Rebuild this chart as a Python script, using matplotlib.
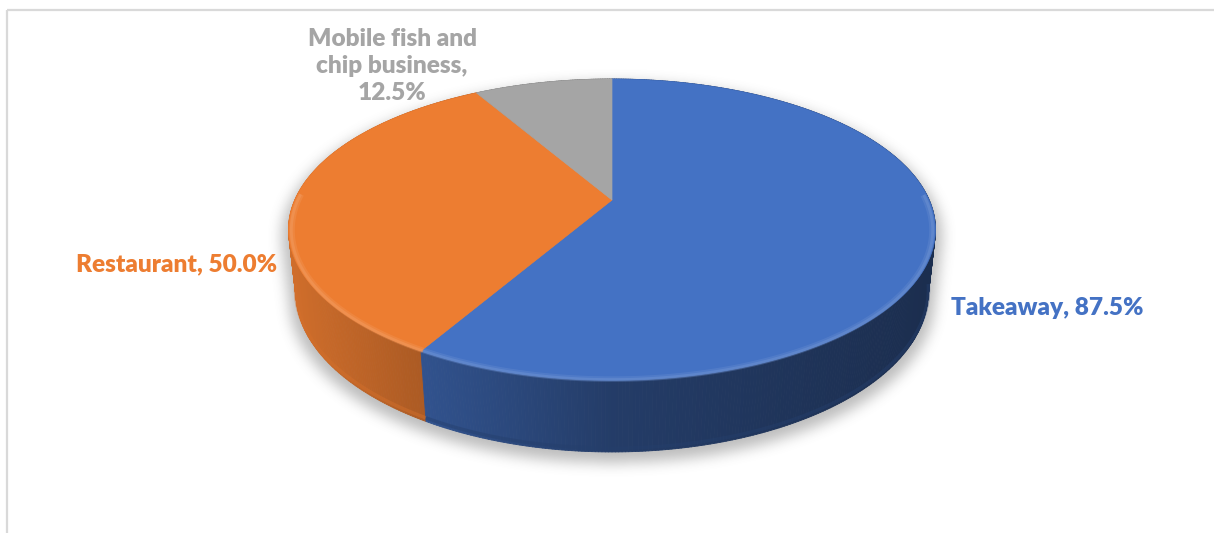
import textwrap
import numpy as np
import matplotlib
matplotlib.use("Agg")
import matplotlib.pyplot as plt
from matplotlib.collections import PolyCollection
from matplotlib.patches import Polygon, Rectangle
from matplotlib.path import Path

# ---- data -------------------------------------------------------------
categories = ["Takeaway", "Restaurant", "Mobile fish and chip business"]
values = [87.5, 50.0, 12.5]
colors = ["#4472C4", "#ED7D31", "#A5A5A5"]

# ---- layout ------------------------------------------------------------
W, H = 1214, 533
CX, CY = 612, 200            # screen position of the pie centre
ELEV = np.deg2rad(27.15)     # camera elevation
DIST = 4.538                 # camera distance (in pie radii)
FOCAL = 1439.5               # focal length in pixels
THICK = 0.225                # pie thickness (in pie radii)
label_pos = [(951, 315, "left"), (76, 271, "left"), (392, 66, "center")]
wrap_width = [None, None, 15]
# wall darkening versus screen x
shade_x = [288, 425, 612, 935]
shade_f = [0.88, 0.72, 0.53, 0.40]

s_e, c_e = np.sin(ELEV), np.cos(ELEV)


def proj(X, Y, Z):
    u = X
    v = Y * s_e + Z * c_e
    w = Y * c_e - Z * s_e + DIST
    return CX + FOCAL * u / w, CY - FOCAL * v / w


def shade(color, f):
    rgb = np.array(matplotlib.colors.to_rgb(color))
    return tuple(np.clip(rgb * f, 0, 1))


def lighten(color, f):
    rgb = np.array(matplotlib.colors.to_rgb(color))
    return tuple(rgb + (1 - rgb) * f)


def box_blur(a, r, axis):
    pad = [(0, 0), (0, 0)]
    pad[axis] = (r + 1, r)
    p = np.pad(a, pad, mode="edge")
    cs = np.cumsum(p, axis=axis)
    n = a.shape[axis]
    hi = np.take(cs, np.arange(2 * r + 1, 2 * r + 1 + n), axis=axis)
    lo = np.take(cs, np.arange(0, n), axis=axis)
    return (hi - lo) / (2 * r + 1)


fig = plt.figure(figsize=(W / 100, H / 100), dpi=100)
ax = fig.add_axes([0, 0, 1, 1])
ax.set_xlim(0, W)
ax.set_ylim(H, 0)
ax.axis("off")

# chart frame
ax.add_patch(Rectangle((7, 10), 1400, 700, fill=False, edgecolor="#D9D9D9",
                       lw=1.6, zorder=0))

total = float(sum(values))
bounds = 90.0 - 360.0 * np.concatenate([[0], np.cumsum(values)]) / total

# ---- soft shadow under the pie ----------------------------------------
tt = np.linspace(0, 2 * np.pi, 240)
gx, gy = np.meshgrid(np.arange(W) + 0.5, np.arange(H) + 0.5)
pts = np.column_stack([gx.ravel(), gy.ravel()])
mask = np.zeros(W * H, dtype=bool)
for z in np.linspace(0, -THICK, 8):
    px, py = proj(1.02 * np.cos(tt), 1.02 * np.sin(tt), np.full_like(tt, z))
    mask |= Path(np.column_stack([px, py + 6])).contains_points(pts)
m = mask.reshape(H, W).astype(float)
for _ in range(3):
    m = box_blur(m, 6, 0)
    m = box_blur(m, 6, 1)
shadow = np.zeros((H, W, 4))
shadow[..., :3] = 0.35
shadow[..., 3] = m * 0.40
ax.imshow(shadow, extent=(0, W, H, 0), zorder=1, interpolation="bilinear")
ax.set_xlim(0, W)
ax.set_ylim(H, 0)

# ---- side walls --------------------------------------------------------
quads, qcols, depth = [], [], []
for i, col in enumerate(colors):
    t0, t1 = np.deg2rad(bounds[i]), np.deg2rad(bounds[i + 1])
    n = max(4, int(abs(t1 - t0) / np.deg2rad(0.5)))
    th = np.linspace(t0, t1, n + 1)
    for a, b in zip(th[:-1], th[1:]):
        xa, ya = proj(np.cos(a), np.sin(a), 0)
        xb, yb = proj(np.cos(b), np.sin(b), 0)
        xa2, ya2 = proj(np.cos(a), np.sin(a), -THICK)
        xb2, yb2 = proj(np.cos(b), np.sin(b), -THICK)
        quads.append([(xa, ya), (xb, yb), (xb2, yb2), (xa2, ya2)])
        f = np.interp(0.5 * (xa + xb), shade_x, shade_f)
        qcols.append(shade(col, f))
        depth.append(np.sin(0.5 * (a + b)))
order = np.argsort(depth)[::-1]
pc = PolyCollection([quads[k] for k in order],
                    facecolors=[qcols[k] for k in order],
                    edgecolors=[qcols[k] for k in order],
                    linewidths=0.6, zorder=2)
ax.add_collection(pc)

# slightly lighter rounded edge along the bottom of the front wall
for i, col in enumerate(colors):
    th = np.deg2rad(np.linspace(bounds[i], bounds[i + 1], 200))
    front = th[np.sin(th) < -0.15]
    if front.size:
        bx, by = proj(np.cos(front), np.sin(front),
                      np.full_like(front, -THICK + 0.012))
        xm = np.mean(bx)
        ax.plot(bx, by, color=shade(col, np.interp(xm, shade_x, shade_f) + 0.07),
                lw=2.5, alpha=0.45, solid_capstyle="butt", zorder=2.5)

# ---- top faces ---------------------------------------------------------
for i, col in enumerate(colors):
    th = np.deg2rad(np.linspace(bounds[i], bounds[i + 1], 200))
    px, py = proj(np.cos(th), np.sin(th), np.zeros_like(th))
    verts = np.column_stack([np.r_[CX, px], np.r_[CY, py]])
    ax.add_patch(Polygon(verts, closed=True, facecolor=col, edgecolor=col,
                         lw=0.5, zorder=3))
    # soft bevel highlight along the front rim
    front = th[np.sin(th) < 0.05]
    if front.size:
        for r, lw, a in [(0.990, 4.0, 0.35), (0.992, 2.0, 0.6)]:
            hx, hy = proj(r * np.cos(front), r * np.sin(front),
                          np.full_like(front, -0.004))
            ax.plot(hx, hy, color=lighten(col, 0.2), lw=lw, alpha=a,
                    solid_capstyle="butt", zorder=4)

# ---- data labels -------------------------------------------------------
for i, (cat, val, col) in enumerate(zip(categories, values, colors)):
    text = f"{cat}, {val:.1f}%"
    if wrap_width[i]:
        text = textwrap.fill(text, wrap_width[i])
    x, y, ha = label_pos[i]
    ax.text(x, y, text, color=col, fontsize=17.6, fontweight="heavy",
            family=["Lato", "DejaVu Sans"], ha=ha,
            va="center" if "\n" in text else "baseline",
            multialignment="center", linespacing=1.3, zorder=5)

fig.savefig("out.png", dpi=100)
